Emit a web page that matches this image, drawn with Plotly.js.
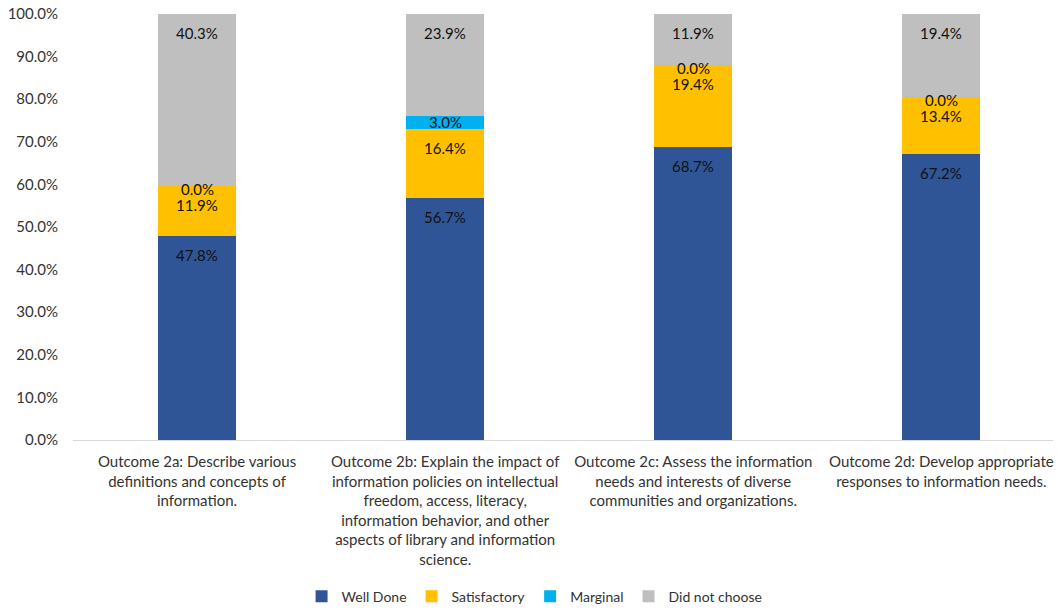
<!DOCTYPE html>
<html>
<head>
<meta charset="utf-8">
<script src="https://cdn.plot.ly/plotly-3.0.1.min.js"></script>
<style>
  html, body { margin: 0; padding: 0; background: #fff; }
  #chart { width: 1057px; height: 610px; }
</style>
</head>
<body>
<div id="chart"></div>
<script>
const categories = [
  "Outcome 2a: Describe various<br>definitions and concepts of<br>information.",
  "Outcome 2b: Explain the impact of<br>information policies on intellectual<br>freedom, access, literacy,<br>information behavior, and other<br>aspects of library and information<br>science.",
  "Outcome 2c: Assess the information<br>needs and interests of diverse<br>communities and organizations.",
  "Outcome 2d: Develop appropriate<br>responses to information needs."
];
const seriesNames = ["Well Done", "Satisfactory", "Marginal", "Did not choose"];
const wellDone = [47.8, 56.7, 68.7, 67.2];
const satisfactory = [11.9, 16.4, 19.4, 13.4];
const marginal = [0.0, 3.0, 0.0, 0.0];
const didNotChoose = [40.3, 23.9, 11.9, 19.4];
const yTickValues = [0, 10, 20, 30, 40, 50, 60, 70, 80, 90, 100];
const yTickLabels = ["0.0%", "10.0%", "20.0%", "30.0%", "40.0%", "50.0%", "60.0%", "70.0%", "80.0%", "90.0%", "100.0%"];

const seriesValues = [wellDone, satisfactory, marginal, didNotChoose];
const colors = ["#2F5597", "#FFC000", "#00B0F0", "#BFBFBF"];
const FONT = "Lato, 'Open Sans', sans-serif";

const traces = seriesValues.map((vals, i) => ({
  type: "bar",
  name: seriesNames[i],
  x: categories,
  y: vals,
  marker: { color: colors[i] },
  width: 0.315,
  hoverinfo: "skip"
}));

// data labels: placed from cumulative stack values
const annotations = [];
const cum = categories.map(() => 0);
seriesValues.forEach((vals) => {
  vals.forEach((v, j) => {
    const bottom = cum[j];
    const top = bottom + v;
    cum[j] = top;
    let y, yshift;
    if (v < 8) { y = (bottom + top) / 2; yshift = v === 0 ? -3 : 0; }
    else { y = top; yshift = -19; }
    annotations.push({
      x: categories[j], y: y, xref: "x", yref: "y",
      text: v.toFixed(1) + "%",
      showarrow: false, yshift: yshift,
      font: { family: FONT, size: 15, color: "#111" },
      xanchor: "center", yanchor: "middle"
    });
  });
});

const layout = {
  width: 1057, height: 610,
  barmode: "stack",
  paper_bgcolor: "#fff", plot_bgcolor: "#fff",
  margin: { l: 73, r: 4, t: 14, b: 170, autoexpand: false },
  font: { family: FONT, size: 15, color: "#333" },
  showlegend: true,
  legend: {
    orientation: "h", x: 0.471, xanchor: "center", y: -0.368, yanchor: "middle",
    font: { family: FONT, size: 14, color: "#333" },
    itemwidth: 30,
    traceorder: "normal"
  },
  xaxis: {
    type: "category",
    range: [-0.5, 3.45],
    automargin: false,
    showline: true, linecolor: "#d9d9d9", linewidth: 1,
    showgrid: false, zeroline: false, ticks: "",
    tickfont: { family: FONT, size: 15, color: "#333" },
    tickangle: 0,
    ticklabelstandoff: 8
  },
  yaxis: {
    range: [0, 100],
    automargin: false,
    tickvals: yTickValues,
    ticktext: yTickLabels,
    showline: false, showgrid: false, zeroline: false, ticks: "",
    tickfont: { family: FONT, size: 15, color: "#333" },
    ticklabelstandoff: 14
  },
  annotations: annotations
};

Plotly.newPlot("chart", traces, layout, { displayModeBar: false, staticPlot: true });
</script>
</body>
</html>
